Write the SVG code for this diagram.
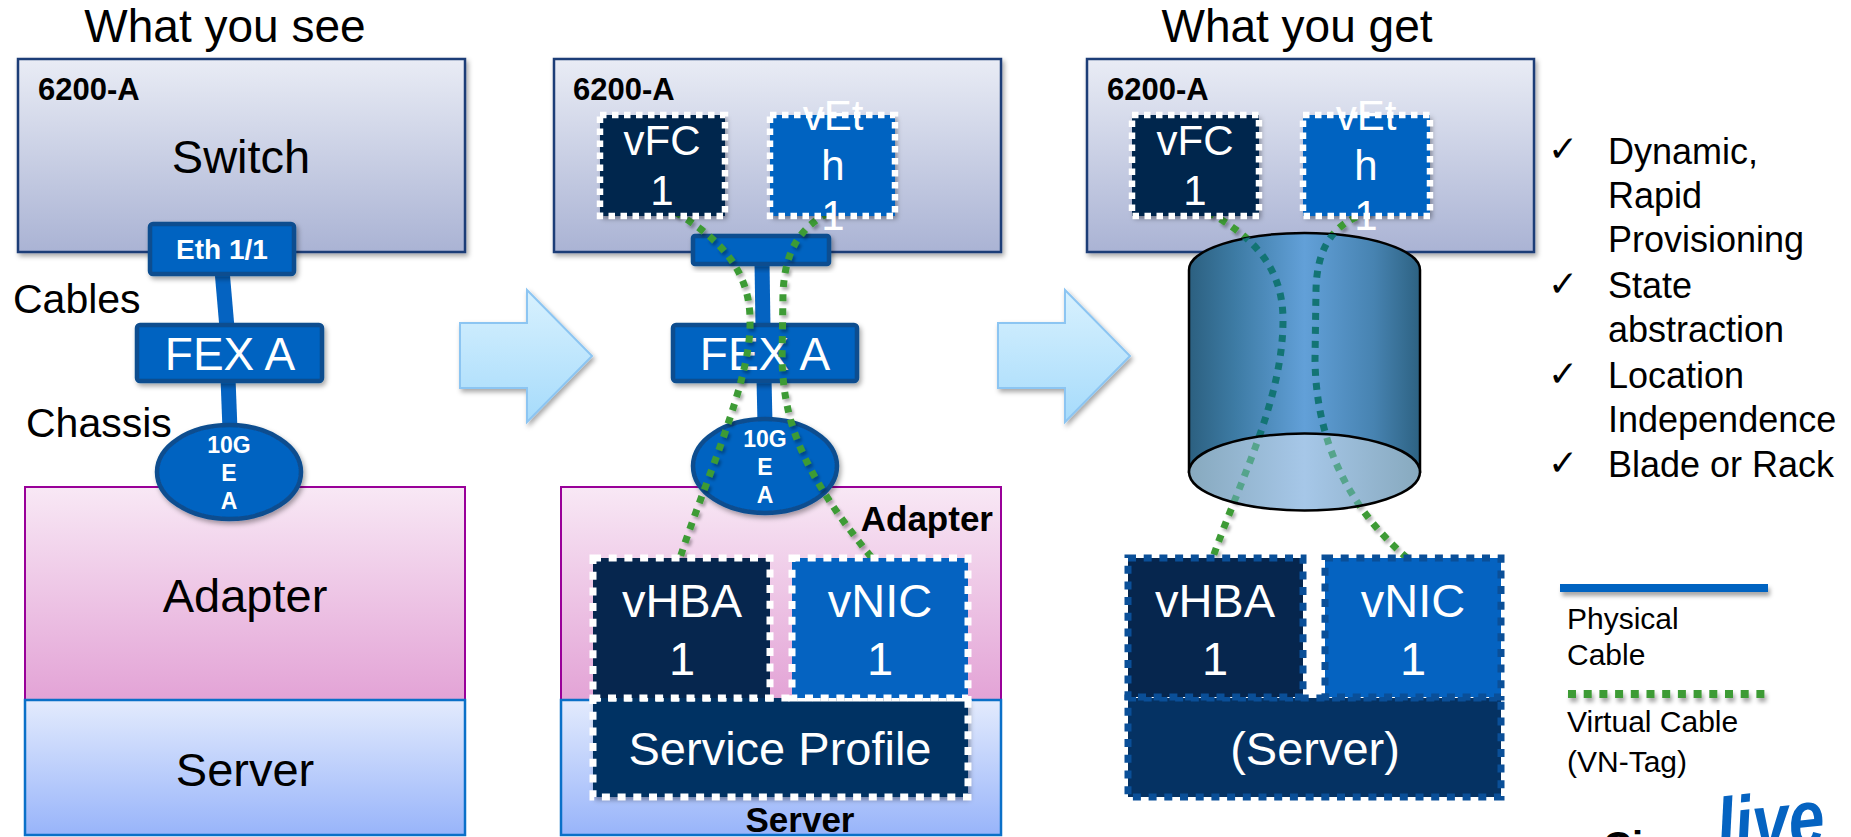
<svg xmlns="http://www.w3.org/2000/svg" width="1851" height="837" viewBox="0 0 1851 837">
  <defs>
    <linearGradient id="gSwitch" x1="0" y1="0" x2="0" y2="1">
      <stop offset="0" stop-color="#E9ECF5"/>
      <stop offset="1" stop-color="#AAB3D4"/>
    </linearGradient>
    <linearGradient id="gAdapter" x1="0" y1="0" x2="0" y2="1">
      <stop offset="0" stop-color="#F8E8F5"/>
      <stop offset="1" stop-color="#E3A3D6"/>
    </linearGradient>
    <linearGradient id="gServer" x1="0" y1="0" x2="0" y2="1">
      <stop offset="0" stop-color="#E3EBFD"/>
      <stop offset="1" stop-color="#98B4FA"/>
    </linearGradient>
    <linearGradient id="gArrow" x1="0" y1="0" x2="0" y2="1">
      <stop offset="0" stop-color="#D8F1FE"/>
      <stop offset="1" stop-color="#A6DBFB"/>
    </linearGradient>
    <linearGradient id="gCyl" x1="0" y1="0" x2="1" y2="0">
      <stop offset="0" stop-color="#2C6080"/>
      <stop offset="0.2" stop-color="#3D7BA4"/>
      <stop offset="0.5" stop-color="#62A0D8"/>
      <stop offset="0.8" stop-color="#4783B1"/>
      <stop offset="1" stop-color="#2D6282"/>
    </linearGradient>
    <linearGradient id="gCylBase" x1="0" y1="0" x2="1" y2="0">
      <stop offset="0" stop-color="#87A9BE"/>
      <stop offset="0.5" stop-color="#A6C7E8"/>
      <stop offset="1" stop-color="#87A9BE"/>
    </linearGradient>
    <clipPath id="cBody">
      <path d="M1189,270 A115.5,37 0 0 1 1420,270 L1420,472 L1189,472 Z"/>
    </clipPath>
    <clipPath id="cBase">
      <ellipse cx="1304.5" cy="472" rx="115.5" ry="38.5"/>
    </clipPath>
    <filter id="sh" x="-10%" y="-10%" width="130%" height="140%">
      <feDropShadow dx="2" dy="3" stdDeviation="2.5" flood-color="#000" flood-opacity="0.35"/>
    </filter>
    <filter id="shs" x="-20%" y="-20%" width="140%" height="140%">
      <feDropShadow dx="2" dy="3" stdDeviation="1.5" flood-color="#000" flood-opacity="0.3"/>
    </filter>
    <filter id="shl" filterUnits="userSpaceOnUse" x="1540" y="570" width="250" height="140">
      <feDropShadow dx="2" dy="4" stdDeviation="2" flood-color="#000" flood-opacity="0.35"/>
    </filter>
  </defs>
  <style>
    text { font-family: "Liberation Sans", Arial, sans-serif; }
    .title { font-size: 46px; fill: #000; text-anchor: middle; }
    .big { font-size: 47px; fill: #000; text-anchor: middle; }
    .side { font-size: 41px; fill: #000; }
    .model { font-size: 31px; font-weight: bold; fill: #000; }
    .bold34 { font-size: 35px; font-weight: bold; fill: #000; }
    .wt { fill: #fff; text-anchor: middle; }
    .switch { fill: url(#gSwitch); stroke: #1F3E77; stroke-width: 2.5; filter: url(#sh); }
    .adapter { fill: url(#gAdapter); stroke: #990099; stroke-width: 2; }
    .server { fill: url(#gServer); stroke: #0A70C8; stroke-width: 2.5; }
    .phys { fill: #0563C1; stroke: #0A4D8F; stroke-width: 4.5; filter: url(#sh); }
    .cable { stroke: #0563C1; stroke-width: 15; fill: none; }
    .arrow { fill: url(#gArrow); stroke: #8CC5F2; stroke-width: 2; filter: url(#sh); }
    .navy { fill: #06264E; }
    .blue { fill: #0563C1; }
    .sp { fill: #053263; }
    .dashW { fill: none; stroke: #fff; stroke-width: 6.5; stroke-dasharray: 6.5 5.5; }
    .dashW2 { fill: none; stroke: #fff; stroke-width: 7; stroke-dasharray: 8 7.7; }
    .dashB { fill: none; stroke: #0A4F98; stroke-width: 7; stroke-dasharray: 8 7.7; }
    .virt { fill: none; stroke: #3D9B35; stroke-width: 7; stroke-dasharray: 7 7; filter: url(#shs); }
    .virtIn { fill: none; stroke: #137474; stroke-width: 7; stroke-dasharray: 7 7; }
    .virtBase { fill: none; stroke: #55A48C; stroke-width: 7; stroke-dasharray: 7 7; }
    .list { font-size: 36px; fill: #000; }
    .check { font-family: "DejaVu Sans", sans-serif; font-size: 36px; font-weight: bold; fill: #000; }
    .legend { font-size: 30px; fill: #000; }
  </style>

  <!-- headings -->
  <text class="title" x="225" y="42">What you see</text>
  <text class="title" x="1297" y="42">What you get</text>

  <!-- transition arrows -->
  <polygon class="arrow" points="460,323 527,323 527,290 592,356 527,422 527,388 460,388"/>
  <polygon class="arrow" points="998,323 1065,323 1065,290 1130,356 1065,422 1065,388 998,388"/>

  <!-- ===== left view: physical ===== -->
  <g id="p1-switch">
    <rect class="switch" x="18" y="59" width="447" height="193"/>
    <text class="model" x="38" y="100">6200-A</text>
    <text class="big" x="241" y="173">Switch</text>
  </g>
  <g id="p1-adapter">
    <rect class="adapter" x="25" y="487" width="440" height="213"/>
    <text class="big" x="245" y="612">Adapter</text>
  </g>
  <g id="p1-server">
    <rect class="server" x="25" y="700" width="440" height="135"/>
    <text class="big" x="245" y="786">Server</text>
  </g>
  <text class="side" x="13" y="313">Cables</text>
  <text class="side" x="26" y="437">Chassis</text>

  <g id="p1-cables">
    <line class="cable" x1="222" y1="270" x2="227" y2="328"/>
    <line class="cable" x1="228" y1="378" x2="230" y2="430"/>
  </g>
  <g id="p1-eth">
    <rect class="phys" x="150" y="224" width="144" height="50" rx="3"/>
    <text class="wt" x="222" y="259" font-size="28" font-weight="bold">Eth 1/1</text>
  </g>
  <g id="p1-fex">
    <rect class="phys" x="137" y="325" width="185" height="56" rx="3"/>
    <text class="wt" x="230" y="370" font-size="46">FEX A</text>
  </g>
  <g id="p1-iom">
    <ellipse class="phys" cx="229" cy="472" rx="72" ry="47"/>
    <text class="wt" font-size="23" font-weight="bold"><tspan x="229" y="453">10G</tspan><tspan x="229" y="481">E</tspan><tspan x="229" y="509">A</tspan></text>
  </g>

  <!-- ===== middle view: virtual interfaces ===== -->
  <g id="p2-switch">
    <rect class="switch" x="554" y="59" width="447" height="193"/>
    <text class="model" x="573" y="100">6200-A</text>
  </g>
  <g id="p2-adapter">
    <rect class="adapter" x="561" y="487" width="440" height="213"/>
    <text class="bold34" x="993" y="531" text-anchor="end">Adapter</text>
  </g>
  <g id="p2-server">
    <rect class="server" x="561" y="700" width="440" height="135"/>
    <text class="bold34" x="800" y="832" text-anchor="middle">Server</text>
  </g>
  <g id="p2-cables">
    <line class="cable" x1="762" y1="262" x2="763" y2="328"/>
    <line class="cable" x1="764" y1="378" x2="765" y2="424"/>
  </g>
  <g id="p2-port">
    <rect class="phys" x="693" y="236" width="136" height="28" rx="2"/>
  </g>
  <g id="p2-fex">
    <rect class="phys" x="673" y="325" width="184" height="56" rx="3"/>
    <text class="wt" x="765" y="370" font-size="46">FEX A</text>
  </g>
  <g id="p2-iom">
    <ellipse class="phys" cx="765" cy="466" rx="72" ry="47"/>
    <text class="wt" font-size="23" font-weight="bold"><tspan x="765" y="447">10G</tspan><tspan x="765" y="475">E</tspan><tspan x="765" y="503">A</tspan></text>
  </g>

  <!-- ===== right view: abstracted ===== -->
  <g id="p3-switch">
    <rect class="switch" x="1087" y="59" width="447" height="193"/>
    <text class="model" x="1107" y="100">6200-A</text>
  </g>

  <!-- virtual cables (VN-Tag) -->
  <g id="connectors">
    <path class="virt" d="M675,212 C708,232 750,262 750,320 C752,380 705,480 680,558"/>
    <path class="virt" d="M828,213 C800,228 785,250 783,293 L782,360 C784,420 800,470 872,558"/>
    <path id="v3a" class="virt" d="M1208,212 C1250,235 1283,265 1283,320 C1283,400 1240,480 1213,557"/>
    <path id="v3b" class="virt" d="M1370,212 C1335,222 1317,245 1316,290 L1315,360 C1316,430 1340,500 1407,558"/>
  </g>

  <!-- fabric cylinder, with the virtual cables seen through it -->
  <g id="p3-fabric">
    <path d="M1189,270 A115.5,37 0 0 1 1420,270 L1420,472 L1189,472 Z" fill="url(#gCyl)" stroke="#000" stroke-width="2.5"/>
    <g clip-path="url(#cBody)">
      <path class="virtIn" d="M1208,212 C1250,235 1283,265 1283,320 C1283,400 1240,480 1213,557"/>
      <path class="virtIn" d="M1370,212 C1335,222 1317,245 1316,290 L1315,360 C1316,430 1340,500 1407,558"/>
    </g>
    <ellipse cx="1304.5" cy="472" rx="115.5" ry="38.5" fill="url(#gCylBase)"/>
    <g clip-path="url(#cBase)">
      <path class="virtBase" d="M1208,212 C1250,235 1283,265 1283,320 C1283,400 1240,480 1213,557"/>
      <path class="virtBase" d="M1370,212 C1335,222 1317,245 1316,290 L1315,360 C1316,430 1340,500 1407,558"/>
    </g>
    <ellipse cx="1304.5" cy="472" rx="115.5" ry="38.5" fill="none" stroke="#000" stroke-width="2.5"/>
  </g>

  <!-- middle view vNICs -->
  <g id="p2-vfc">
    <rect class="navy" x="600" y="115" width="125" height="101" filter="url(#sh)"/>
    <rect class="dashW" x="600" y="115" width="125" height="101"/>
    <text class="wt" font-size="42"><tspan x="662" y="155">vFC</tspan><tspan x="662" y="205">1</tspan></text>
  </g>
  <g id="p2-veth">
    <rect class="blue" x="770" y="115" width="125" height="101" filter="url(#sh)"/>
    <rect class="dashW" x="770" y="115" width="125" height="101"/>
    <text class="wt" font-size="42"><tspan x="833" y="130">vEt</tspan><tspan x="833" y="180">h</tspan><tspan x="833" y="230">1</tspan></text>
  </g>
  <g id="p2-profile">
    <rect class="sp" x="593" y="698" width="375" height="99" filter="url(#sh)"/>
    <rect class="dashW2" x="593" y="698" width="375" height="99"/>
    <text class="wt" x="780" y="765" font-size="47">Service Profile</text>
  </g>
  <g id="p2-vhba">
    <rect class="navy" x="593" y="558" width="177" height="140"/>
    <rect class="dashW2" x="593" y="558" width="177" height="140"/>
    <text class="wt" font-size="47"><tspan x="682" y="617">vHBA</tspan><tspan x="682" y="675">1</tspan></text>
  </g>
  <g id="p2-vnic">
    <rect class="blue" x="792" y="558" width="176" height="140"/>
    <rect class="dashW2" x="792" y="558" width="176" height="140"/>
    <text class="wt" font-size="47"><tspan x="880" y="617">vNIC</tspan><tspan x="880" y="675">1</tspan></text>
  </g>

  <!-- right view vNICs -->
  <g id="p3-vfc">
    <rect class="navy" x="1132" y="115" width="127" height="101" filter="url(#sh)"/>
    <rect class="dashW" x="1132" y="115" width="127" height="101"/>
    <text class="wt" font-size="42"><tspan x="1195" y="155">vFC</tspan><tspan x="1195" y="205">1</tspan></text>
  </g>
  <g id="p3-veth">
    <rect class="blue" x="1303" y="115" width="127" height="101" filter="url(#sh)"/>
    <rect class="dashW" x="1303" y="115" width="127" height="101"/>
    <text class="wt" font-size="42"><tspan x="1366" y="130">vEt</tspan><tspan x="1366" y="180">h</tspan><tspan x="1366" y="230">1</tspan></text>
  </g>
  <g id="p3-server">
    <rect class="sp" x="1128" y="698" width="373" height="99"/>
    <rect class="dashB" x="1128" y="698" width="373" height="99"/>
    <text class="wt" x="1315" y="765" font-size="47">(Server)</text>
  </g>
  <g id="p3-vhba">
    <rect class="navy" x="1128" y="558" width="175" height="139"/>
    <rect class="dashB" x="1128" y="558" width="175" height="139"/>
    <text class="wt" font-size="47"><tspan x="1215" y="617">vHBA</tspan><tspan x="1215" y="675">1</tspan></text>
  </g>
  <g id="p3-vnic">
    <rect class="blue" x="1325" y="558" width="176" height="139"/>
    <rect class="dashB" x="1325" y="558" width="176" height="139"/>
    <text class="wt" font-size="47"><tspan x="1413" y="617">vNIC</tspan><tspan x="1413" y="675">1</tspan></text>
  </g>

  <!-- benefits list -->
  <g id="benefits">
    <text class="check" x="1548" y="161">✓</text>
    <text class="check" x="1548" y="296">✓</text>
    <text class="check" x="1548" y="386">✓</text>
    <text class="check" x="1548" y="475">✓</text>
    <text class="list" x="1608" y="164">Dynamic,</text>
    <text class="list" x="1608" y="208">Rapid</text>
    <text class="list" x="1608" y="252">Provisioning</text>
    <text class="list" x="1608" y="298">State</text>
    <text class="list" x="1608" y="342">abstraction</text>
    <text class="list" x="1608" y="388">Location</text>
    <text class="list" x="1608" y="432">Independence</text>
    <text class="list" x="1608" y="477">Blade or Rack</text>
  </g>

  <!-- legend -->
  <g id="legend">
    <rect x="1560" y="584" width="208" height="8" fill="#0563C1" filter="url(#shl)"/>
    <path d="M1568,694 H1768" stroke="#3D9B35" stroke-width="8" stroke-dasharray="8 7.7" fill="none" filter="url(#shl)"/>
    <text class="legend" x="1567" y="629">Physical</text>
    <text class="legend" x="1567" y="665">Cable</text>
    <text class="legend" x="1567" y="732">Virtual Cable</text>
    <text class="legend" x="1567" y="772">(VN-Tag)</text>
  </g>

  <!-- event logo -->
  <g id="logo">
    <text x="1603" y="860" font-size="40" font-weight="bold" fill="#000">Cisco</text>
    <text x="1716" y="850" font-size="80" font-weight="bold" font-style="italic" fill="#0563C1" textLength="108" lengthAdjust="spacingAndGlyphs" transform="rotate(-6 1765 820)">live</text>
  </g>
</svg>
